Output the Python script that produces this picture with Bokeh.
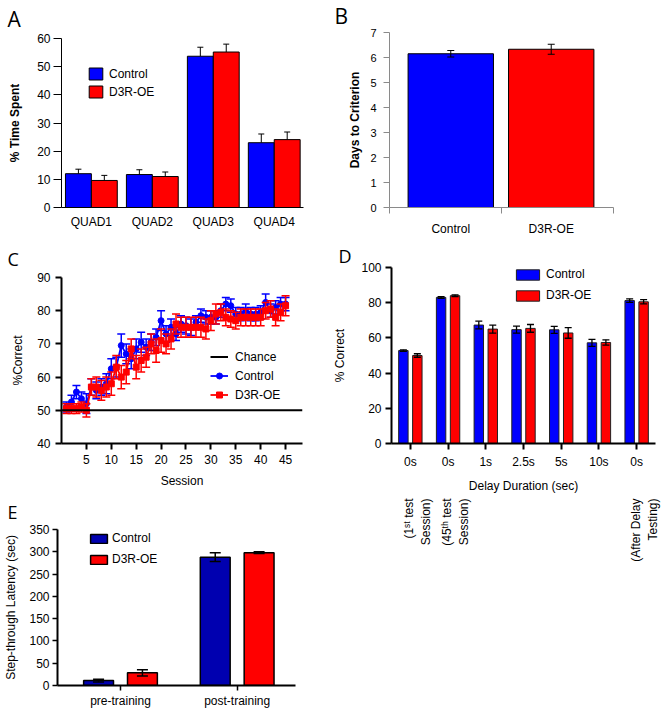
import math
from bokeh.plotting import figure
from bokeh.layouts import row, column
from bokeh.models import Range1d, FixedTicker, Legend, LegendItem, LinearAxis
from bokeh.embed import file_html
from bokeh.resources import INLINE

FONT = "Liberation Sans"
LETTER_FONT = "Open Sans"
BLUE = "#0000FF"
RED = "#FF0000"
DARK_BLUE = "#0000B0"

# ---------------- data ----------------
# A
quads = ["QUAD1", "QUAD2", "QUAD3", "QUAD4"]
a_ctrl = [12.0, 11.7, 53.7, 23.0]
a_ctrl_err = [1.6, 1.7, 3.2, 3.1]
a_d3r = [9.6, 11.0, 55.2, 24.1]
a_d3r_err = [1.8, 1.6, 2.8, 2.7]

# B
b_groups = ["Control", "D3R-OE"]
b_vals = [6.15, 6.33]
b_err = [0.13, 0.20]

# C
sessions = list(range(1, 46))
c_ctrl = [51, 52.5, 55.5, 53.5, 52, 57, 56, 57, 58, 62.5,
          63, 69.5, 67, 65.5, 68.5, 70.5, 69, 70.5, 72, 77,
          73, 75, 73, 76, 75.5, 75, 76.5, 78.5, 78, 78,
          78, 80, 82, 81.5, 79, 79, 80, 79, 79, 79.5,
          82.5, 80, 81, 82, 82]
c_ctrl_err = [1.5, 2, 2, 2, 3, 2.5, 2.5, 2.5, 3, 3,
              3, 3.5, 3, 3, 3, 3, 2.5, 2.5, 2.5, 3,
              2.5, 2.5, 2, 2.5, 2.5, 2.5, 2, 2, 2, 2,
              2, 2, 2, 2, 2, 2, 2, 2, 2, 2,
              2.5, 2, 2, 2, 2]
c_d3r = [50.5, 50.5, 50.5, 51, 50, 57, 57, 56, 57, 58,
         63, 60, 61.5, 68.5, 63, 65, 66, 70, 68, 71,
         70, 71.5, 76, 75, 75, 75, 75, 75, 74.5, 77,
         79, 79.5, 78, 77.5, 77, 78, 78, 78, 78, 78,
         80, 80.5, 78, 79.5, 81.5]
c_d3r_err = [1.5, 1.5, 1.5, 1.5, 2, 2.5, 3, 3, 3, 3.5,
             3.5, 3.5, 3.5, 3, 3.5, 3.5, 3, 3, 3.5, 3.5,
             3, 3, 3, 3, 3, 3, 3, 3, 3, 3,
             3, 2.5, 2.5, 2.5, 2.5, 2.5, 2.5, 2.5, 2.5, 2.5,
             2.5, 2.5, 2.5, 2.5, 3]
chance_level = 50

# D
delays = ["0s", "0s", "1s", "2.5s", "5s", "10s", "0s"]
d_ctrl = [52.8, 83.0, 67.3, 64.7, 64.6, 57.2, 81.2]
d_ctrl_err = [0.4, 0.5, 2.2, 2.0, 2.0, 2.0, 1.0]
d_d3r = [50.0, 84.0, 65.0, 65.4, 62.8, 57.4, 80.5]
d_d3r_err = [1.0, 0.5, 2.3, 2.2, 3.0, 1.5, 1.2]
d_note_cats = [0, 1, 6]
d_notes = ["(1ˢᵗ test\nSession)", "(45ᵗʰ test\nSession)", "(After Delay\nTesting)"]

# E
e_groups = ["pre-training", "post-training"]
e_ctrl = [11.0, 288.0]
e_ctrl_err = [3.0, 10.0]
e_d3r = [28.5, 298.0]
e_d3r_err = [7.0, 2.0]


# ---------------- helpers ----------------
def base_fig(w, h, xr, yr, L, R, T, B, tick_size="12px"):
    p = figure(width=w, height=h, x_range=xr, y_range=yr,
               output_backend="svg", toolbar_location=None,
               min_border_left=L, min_border_right=R,
               min_border_top=T, min_border_bottom=B)
    p.xgrid.visible = False
    p.ygrid.visible = False
    p.outline_line_color = None
    p.background_fill_color = "white"
    p.border_fill_color = "white"
    for ax in (p.xaxis[0], p.yaxis[0]):
        ax.major_label_text_font = FONT
        ax.major_label_text_font_size = tick_size
        ax.major_label_text_color = "black"
        ax.axis_label_text_font = FONT
        ax.axis_label_text_font_size = "12px"
        ax.axis_label_text_font_style = "normal"
        ax.axis_label_text_color = "black"
        ax.minor_tick_line_color = None
        ax.major_tick_in = 0
        ax.axis_line_color = "black"
        ax.major_tick_line_color = "black"
    return p


def letter(p, txt, offset, size, standoff, valign):
    p.title.text = txt
    p.title.align = "left"
    p.title.vertical_align = valign
    p.title.offset = offset
    p.title.standoff = standoff
    p.title.text_font = LETTER_FONT
    p.title.text_font_size = size
    p.title.text_font_style = "normal"
    p.title.text_color = "black"


def errbars(p, x, mid, err, color, lw, cap, up_only=False):
    hi = [m + e for m, e in zip(mid, err)]
    lo = list(mid) if up_only else [m - e for m, e in zip(mid, err)]
    p.segment(x0=x, y0=lo, x1=x, y1=hi, line_color=color, line_width=lw)
    p.scatter(x=x, y=hi, marker="dash", size=cap, line_color=color, line_width=lw)
    if not up_only:
        p.scatter(x=x, y=lo, marker="dash", size=cap, line_color=color, line_width=lw)


def make_legend(items, loc, gw, gh, spacing, standoff, size="12px"):
    return Legend(items=[LegendItem(label=l, renderers=r) for l, r in items],
                  location=loc, orientation="vertical",
                  glyph_width=gw, glyph_height=gh, label_height=gh, label_width=10,
                  spacing=spacing, padding=0, margin=0, label_standoff=standoff,
                  border_line_color=None, background_fill_alpha=0,
                  label_text_font=FONT, label_text_font_size=size,
                  label_text_color="black", label_text_baseline="middle")


# ---------------- Panel A ----------------
pa = base_fig(330, 240, Range1d(-0.49, 3.48), Range1d(0, 60), 61, 27, 38, 33)
xa = list(range(len(quads)))
bw_a = 0.425
xa_c = [i - bw_a / 2 for i in xa]
xa_d = [i + bw_a / 2 for i in xa]
ra1 = pa.vbar(x=xa_c, top=a_ctrl, width=bw_a, fill_color=BLUE, line_color="black", line_width=1)
ra2 = pa.vbar(x=xa_d, top=a_d3r, width=bw_a, fill_color=RED, line_color="black", line_width=1)
errbars(pa, xa_c, a_ctrl, a_ctrl_err, "black", 1, 6, up_only=True)
errbars(pa, xa_d, a_d3r, a_d3r_err, "black", 1, 6, up_only=True)
pa.yaxis.ticker = FixedTicker(ticks=[0, 10, 20, 30, 40, 50, 60])
pa.yaxis.major_tick_out = 8
pa.yaxis.major_label_standoff = 3
pa.yaxis.axis_label = "% Time Spent"
pa.yaxis.axis_label_text_font_style = "bold"
pa.yaxis.axis_label_standoff = 12
pa.xaxis.ticker = FixedTicker(ticks=xa)
pa.xaxis.major_label_overrides = {i: q for i, q in enumerate(quads)}
pa.xaxis.major_tick_out = 0
pa.xaxis.major_label_standoff = 7
pa.add_layout(make_legend([("Control", [ra1]), ("D3R-OE", [ra2])], (26, 108), 17, 15, 3, 5))
letter(pa, "A", -54, "21px", 7, "top")

# ---------------- Panel B ----------------
pb = base_fig(332, 240, Range1d(0.39, 2.62), Range1d(0, 7), 59, 49, 32, 33, tick_size="11px")
xb = [1, 2]
pb.vbar(x=xb, top=b_vals, width=0.85, fill_color=[BLUE, RED], line_color="black", line_width=1)
errbars(pb, xb, b_vals, b_err, "black", 1, 7)
for ax in (pb.xaxis[0], pb.yaxis[0]):
    ax.axis_line_color = "#8a8a8a"
    ax.major_tick_line_color = "#8a8a8a"
pb.yaxis.ticker = FixedTicker(ticks=list(range(0, 8)))
pb.yaxis.major_tick_out = 6
pb.yaxis.major_label_standoff = 7
pb.yaxis.axis_label = "Days to Criterion"
pb.yaxis.axis_label_text_font_style = "bold"
pb.yaxis.axis_label_standoff = 5
pb.xaxis.ticker = FixedTicker(ticks=xb, minor_ticks=[0.392, 1.505, 2.618])
pb.xaxis.major_label_overrides = {1: b_groups[0], 2: b_groups[1]}
pb.xaxis.major_label_text_font_size = "12px"
pb.xaxis.major_tick_out = 0
pb.xaxis.minor_tick_out = 6
pb.xaxis.minor_tick_in = 0
pb.xaxis.minor_tick_line_color = "#8a8a8a"
pb.xaxis.major_label_standoff = 8
letter(pb, "B", -55, "21px", 1, "top")

# ---------------- Panel C ----------------
c_xmin, c_xmax = 0, 48.4
pc = base_fig(330, 250, Range1d(c_xmin, c_xmax), Range1d(40, 90), 61, 28, 37, 47)
errbars(pc, sessions, c_ctrl, c_ctrl_err, BLUE, 1.5, 8)
lc1 = pc.line(sessions, c_ctrl, line_color=BLUE, line_width=1.8)
sc1 = pc.scatter(sessions, c_ctrl, marker="circle", size=6, fill_color=BLUE, line_color=BLUE)
errbars(pc, sessions, c_d3r, c_d3r_err, RED, 1.5, 8)
lc2 = pc.line(sessions, c_d3r, line_color=RED, line_width=1.8)
sc2 = pc.scatter(sessions, c_d3r, marker="square", size=6, fill_color=RED, line_color=RED)
lch = pc.line([c_xmin, c_xmax], [chance_level, chance_level], line_color="black", line_width=2)
for ax in (pc.xaxis[0], pc.yaxis[0]):
    ax.axis_line_width = 2
    ax.major_tick_line_width = 2
    ax.major_tick_out = 6
pc.yaxis.ticker = FixedTicker(ticks=[40, 50, 60, 70, 80, 90])
pc.yaxis.major_label_standoff = 5
pc.yaxis.axis_label = "%Correct"
pc.yaxis.axis_label_standoff = 9
pc.xaxis.ticker = FixedTicker(ticks=[5, 10, 15, 20, 25, 30, 35, 40, 45])
pc.xaxis.major_label_standoff = 5
pc.xaxis.axis_label = "Session"
pc.xaxis.axis_label_standoff = 7
pc.add_layout(make_legend([("Chance", [lch]), ("Control", [lc1, sc1]), ("D3R-OE", [lc2, sc2])],
                          (149, 41), 18, 15, 4, 7))
letter(pc, "C", -54, "18px", 10, "top")

# ---------------- Panel D ----------------
d_lo, d_hi = -0.5, 6.5
pd_ = base_fig(332, 330, Range1d(d_lo, d_hi), Range1d(0, 100), 60, 7, 27, 127)
# shifted copy of the category range so the rotated notes sit just right of their ticks
pd_.extra_x_ranges = {"notes": Range1d(d_lo - 0.2, d_hi - 0.2)}
xd = list(range(len(delays)))
bw_d = 0.25
off_d = 0.185
xd_c = [i - off_d for i in xd]
xd_d = [i + off_d for i in xd]
rd1 = pd_.vbar(x=xd_c, top=d_ctrl, width=bw_d, fill_color=BLUE, line_color="#202020", line_width=1)
rd2 = pd_.vbar(x=xd_d, top=d_d3r, width=bw_d, fill_color=RED, line_color="#202020", line_width=1)
errbars(pd_, xd_c, d_ctrl, d_ctrl_err, "black", 1.3, 7)
errbars(pd_, xd_d, d_d3r, d_d3r_err, "black", 1.3, 7)
for ax in (pd_.xaxis[0], pd_.yaxis[0]):
    ax.axis_line_width = 2
    ax.major_tick_line_width = 2
    ax.major_tick_out = 6
pd_.yaxis.ticker = FixedTicker(ticks=[0, 20, 40, 60, 80, 100])
pd_.yaxis.major_label_standoff = 4
pd_.yaxis.axis_label = "% Correct"
pd_.yaxis.axis_label_standoff = 11
pd_.xaxis.ticker = FixedTicker(ticks=xd)
pd_.xaxis.major_label_overrides = {i: d for i, d in enumerate(delays)}
pd_.xaxis.major_label_standoff = 5
pd_.xaxis.axis_label = "Delay Duration (sec)"
pd_.xaxis.axis_label_standoff = 7
note_axis = LinearAxis(x_range_name="notes", ticker=FixedTicker(ticks=d_note_cats),
                       major_label_overrides={c: t for c, t in zip(d_note_cats, d_notes)},
                       major_label_orientation=math.pi / 2,
                       major_label_text_font=FONT, major_label_text_font_size="12px",
                       major_label_text_color="black", major_label_standoff=3,
                       axis_line_color=None, major_tick_line_color=None,
                       minor_tick_line_color=None, major_tick_out=0, major_tick_in=0)
pd_.add_layout(note_axis, "below")
pd_.add_layout(make_legend([("Control", [rd1]), ("D3R-OE", [rd2])], (122, 141), 29, 13, 7, 4))
letter(pd_, "D", -53, "18px", 0, "bottom")

# ---------------- Panel E ----------------
pe = base_fig(330, 224, Range1d(-0.54, 1.5), Range1d(0, 350), 57, 35, 39, 29)
xe = list(range(len(e_groups)))
bw_e = 0.256
off_e = 0.188
xe_c = [i - off_e for i in xe]
xe_d = [i + off_e for i in xe]
re1 = pe.vbar(x=xe_c, top=e_ctrl, width=bw_e, fill_color=DARK_BLUE, line_color="black", line_width=1.5)
re2 = pe.vbar(x=xe_d, top=e_d3r, width=bw_e, fill_color=RED, line_color="black", line_width=1.5)
errbars(pe, xe_c, e_ctrl, e_ctrl_err, "black", 1.5, 11)
errbars(pe, xe_d, e_d3r, e_d3r_err, "black", 1.5, 11)
for ax in (pe.xaxis[0], pe.yaxis[0]):
    ax.axis_line_width = 2
    ax.major_tick_line_width = 1.5
    ax.major_tick_out = 5
pe.yaxis.ticker = FixedTicker(ticks=[0, 50, 100, 150, 200, 250, 300, 350])
pe.yaxis.major_label_standoff = 3
pe.yaxis.axis_label = "Step-through Latency (sec)"
pe.yaxis.axis_label_standoff = 8
pe.xaxis.ticker = FixedTicker(ticks=xe)
pe.xaxis.major_label_overrides = {i: g for i, g in enumerate(e_groups)}
pe.xaxis.major_label_standoff = 3
pe.add_layout(make_legend([("Control", [re1]), ("D3R-OE", [re2])], (31, 119), 21, 11, 7, 3))
letter(pe, "E", -50, "18px", 12, "bottom")

layout = row(column(row(pa), row(pc), row(pe)), column(row(pb), row(pd_)))
open("out.html", "w").write(file_html(layout, INLINE))
